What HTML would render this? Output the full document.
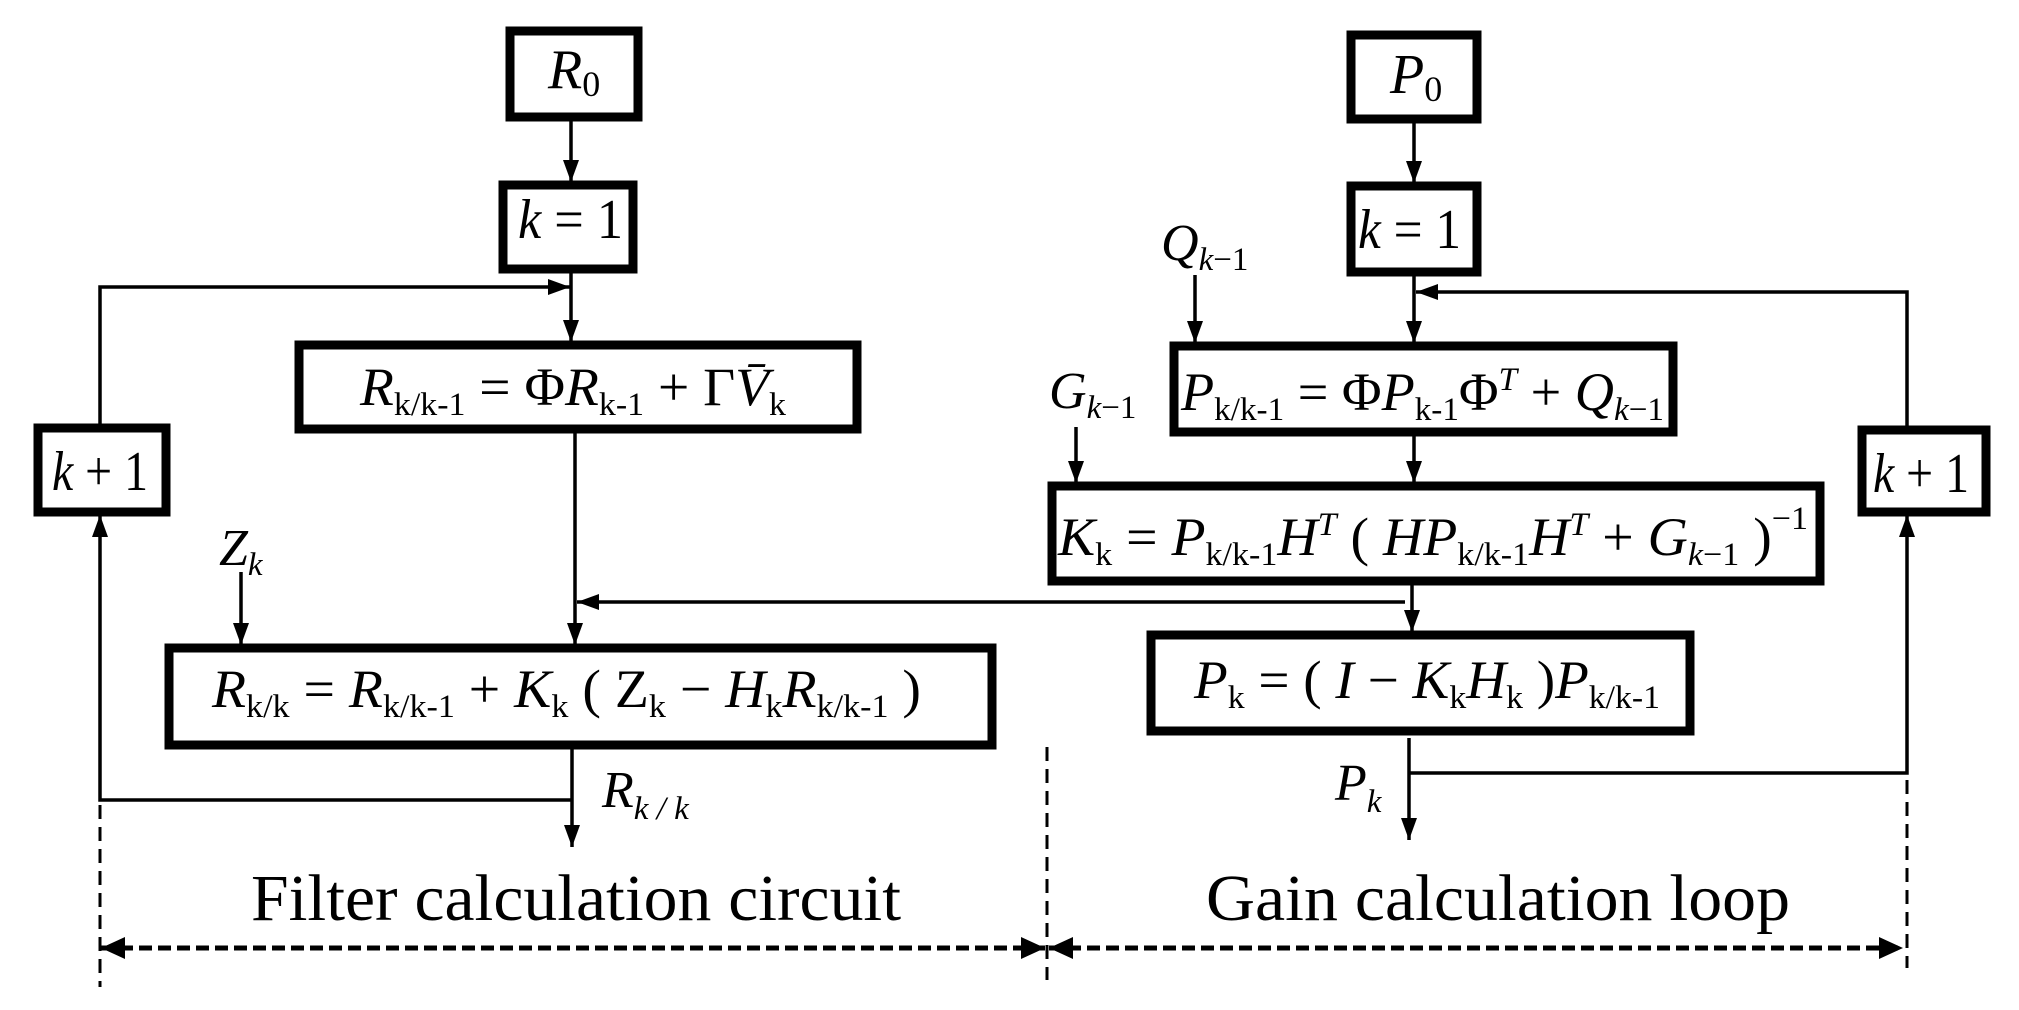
<!DOCTYPE html>
<html><head><meta charset="utf-8"><style>
html,body{margin:0;padding:0;background:#fff;}
svg{display:block;}
text{font-family:"Liberation Serif","DejaVu Serif",serif;fill:#000;}
.i{font-style:italic;}
</style></head><body>
<svg width="2019" height="1010" viewBox="0 0 2019 1010" xmlns="http://www.w3.org/2000/svg">
<defs>
<marker id="a" viewBox="0 0 22 16" refX="22" refY="8" markerWidth="22" markerHeight="16" markerUnits="userSpaceOnUse" orient="auto"><path d="M0,0 L22,8 L0,16 z" fill="#000"/></marker>
<marker id="b" viewBox="0 0 24 22" refX="24" refY="11" markerWidth="24" markerHeight="22" markerUnits="userSpaceOnUse" orient="auto-start-reverse"><path d="M0,0 L24,11 L0,22 z" fill="#000"/></marker>
</defs>
<g fill="none" stroke="#000" stroke-width="9">
<rect x="510" y="31" width="128" height="86"/>
<rect x="503" y="185" width="130" height="84"/>
<rect x="299" y="345" width="558" height="84"/>
<rect x="38" y="428" width="128" height="84"/>
<rect x="169" y="648" width="823" height="97"/>
<rect x="1351" y="35" width="126" height="84"/>
<rect x="1351" y="186" width="126" height="86"/>
<rect x="1174" y="346" width="499" height="86"/>
<rect x="1052" y="486" width="768" height="95"/>
<rect x="1151" y="635" width="539" height="96"/>
<rect x="1862" y="430" width="124" height="82"/>
</g>
<g fill="none" stroke="#000" stroke-width="3.5">
<line x1="571" y1="120" x2="571" y2="182" marker-end="url(#a)"/>
<line x1="571" y1="272" x2="571" y2="342" marker-end="url(#a)"/>
<polyline points="100,425 100,287 570,287" marker-end="url(#a)"/>
<line x1="575" y1="432" x2="575" y2="645" marker-end="url(#a)"/>
<line x1="241" y1="572" x2="241" y2="645" marker-end="url(#a)"/>
<line x1="1405" y1="602" x2="577" y2="602" marker-end="url(#a)"/>
<line x1="572" y1="748" x2="572" y2="847" marker-end="url(#a)"/>
<polyline points="572,800 100,800 100,515" marker-end="url(#a)"/>
<line x1="1414" y1="122" x2="1414" y2="183" marker-end="url(#a)"/>
<line x1="1414" y1="275" x2="1414" y2="343" marker-end="url(#a)"/>
<polyline points="1907,427 1907,292 1416,292" marker-end="url(#a)"/>
<line x1="1195" y1="275" x2="1195" y2="343" marker-end="url(#a)"/>
<line x1="1076" y1="427" x2="1076" y2="483" marker-end="url(#a)"/>
<line x1="1414" y1="435" x2="1414" y2="483" marker-end="url(#a)"/>
<line x1="1412" y1="584" x2="1412" y2="632" marker-end="url(#a)"/>
<line x1="1409" y1="738" x2="1409" y2="840" marker-end="url(#a)"/>
<polyline points="1409,773 1907,773 1907,515" marker-end="url(#a)"/>
</g>
<g fill="none" stroke="#000" stroke-width="3" stroke-dasharray="14,8">
<line x1="100" y1="805" x2="100" y2="987"/>
<line x1="1047" y1="747" x2="1047" y2="980"/>
<line x1="1907" y1="780" x2="1907" y2="968"/>
</g>
<g fill="none" stroke="#000" stroke-width="5" stroke-dasharray="13,6">
<line x1="101" y1="948" x2="1045" y2="948" marker-start="url(#b)" marker-end="url(#b)"/>
<line x1="1049" y1="948" x2="1903" y2="948" marker-start="url(#b)" marker-end="url(#b)"/>
</g>

<text x="548" y="88" font-size="56"><tspan class="i">R</tspan><tspan font-size="36" dy="8">0</tspan></text>
<text x="518" y="238" font-size="56" textLength="105" lengthAdjust="spacingAndGlyphs"><tspan class="i">k</tspan> = 1</text>
<text x="360" y="405" font-size="54" textLength="426" lengthAdjust="spacingAndGlyphs"><tspan class="i">R</tspan><tspan font-size="33" dy="10">k/k-1</tspan><tspan dy="-10"> = Φ</tspan><tspan class="i">R</tspan><tspan font-size="33" dy="10">k-1</tspan><tspan dy="-10"> + Γ</tspan><tspan class="i">V̄</tspan><tspan font-size="33" dy="10">k</tspan></text>
<text x="52" y="490" font-size="56" textLength="96" lengthAdjust="spacingAndGlyphs"><tspan class="i">k</tspan> + 1</text>
<text x="219" y="565" font-size="52"><tspan class="i">Z</tspan><tspan class="i" font-size="33" dy="10">k</tspan></text>
<text x="212" y="707" font-size="54" textLength="709" lengthAdjust="spacingAndGlyphs"><tspan class="i">R</tspan><tspan font-size="33" dy="10">k/k</tspan><tspan dy="-10"> = </tspan><tspan class="i">R</tspan><tspan font-size="33" dy="10">k/k-1</tspan><tspan dy="-10"> + </tspan><tspan class="i">K</tspan><tspan font-size="33" dy="10">k</tspan><tspan dy="-10"> ( Z</tspan><tspan font-size="33" dy="10">k</tspan><tspan dy="-10"> − </tspan><tspan class="i">H</tspan><tspan font-size="33" dy="10">k</tspan><tspan class="i" dy="-10">R</tspan><tspan font-size="33" dy="10">k/k-1</tspan><tspan dy="-10"> )</tspan></text>
<text x="602" y="807" font-size="52"><tspan class="i">R</tspan><tspan class="i" font-size="33" dy="12">k / k</tspan></text>
<text x="1390" y="93" font-size="56"><tspan class="i">P</tspan><tspan font-size="36" dy="8">0</tspan></text>
<text x="1358" y="248" font-size="56" textLength="103" lengthAdjust="spacingAndGlyphs"><tspan class="i">k</tspan> = 1</text>
<text x="1161" y="260" font-size="52"><tspan class="i">Q</tspan><tspan class="i" font-size="33" dy="10">k</tspan><tspan font-size="33">−1</tspan></text>
<text x="1049" y="408" font-size="52"><tspan class="i">G</tspan><tspan class="i" font-size="33" dy="10">k</tspan><tspan font-size="33">−1</tspan></text>
<text x="1181" y="410" font-size="54" textLength="483" lengthAdjust="spacingAndGlyphs"><tspan class="i">P</tspan><tspan font-size="33" dy="10">k/k-1</tspan><tspan dy="-10"> = Φ</tspan><tspan class="i">P</tspan><tspan font-size="33" dy="10">k-1</tspan><tspan dy="-10">Φ</tspan><tspan class="i" font-size="33" dy="-20">T</tspan><tspan dy="20"> + </tspan><tspan class="i">Q</tspan><tspan class="i" font-size="33" dy="10">k</tspan><tspan font-size="33">−1</tspan></text>
<text x="1873" y="492" font-size="56" textLength="96" lengthAdjust="spacingAndGlyphs"><tspan class="i">k</tspan> + 1</text>
<text x="1058" y="555" font-size="54" textLength="750" lengthAdjust="spacingAndGlyphs"><tspan class="i">K</tspan><tspan font-size="33" dy="10">k</tspan><tspan dy="-10"> = </tspan><tspan class="i">P</tspan><tspan font-size="33" dy="10">k/k-1</tspan><tspan class="i" dy="-10">H</tspan><tspan class="i" font-size="33" dy="-20">T</tspan><tspan dy="20"> ( </tspan><tspan class="i">HP</tspan><tspan font-size="33" dy="10">k/k-1</tspan><tspan class="i" dy="-10">H</tspan><tspan class="i" font-size="33" dy="-20">T</tspan><tspan dy="20"> + </tspan><tspan class="i">G</tspan><tspan class="i" font-size="33" dy="10">k</tspan><tspan font-size="33">−1</tspan><tspan dy="-10"> )</tspan><tspan font-size="33" dy="-26">−1</tspan></text>
<text x="1194" y="698" font-size="54" textLength="466" lengthAdjust="spacingAndGlyphs"><tspan class="i">P</tspan><tspan font-size="33" dy="10">k</tspan><tspan dy="-10"> = ( </tspan><tspan class="i">I</tspan><tspan> − </tspan><tspan class="i">K</tspan><tspan font-size="33" dy="10">k</tspan><tspan class="i" dy="-10">H</tspan><tspan font-size="33" dy="10">k</tspan><tspan dy="-10"> )</tspan><tspan class="i">P</tspan><tspan font-size="33" dy="10">k/k-1</tspan></text>
<text x="1335" y="800" font-size="52"><tspan class="i">P</tspan><tspan class="i" font-size="33" dy="12">k</tspan></text>
<text x="251" y="920" font-size="66" textLength="650" lengthAdjust="spacingAndGlyphs">Filter calculation circuit</text>
<text x="1206" y="920" font-size="66" textLength="584" lengthAdjust="spacingAndGlyphs">Gain calculation loop</text>
</svg>
</body></html>
